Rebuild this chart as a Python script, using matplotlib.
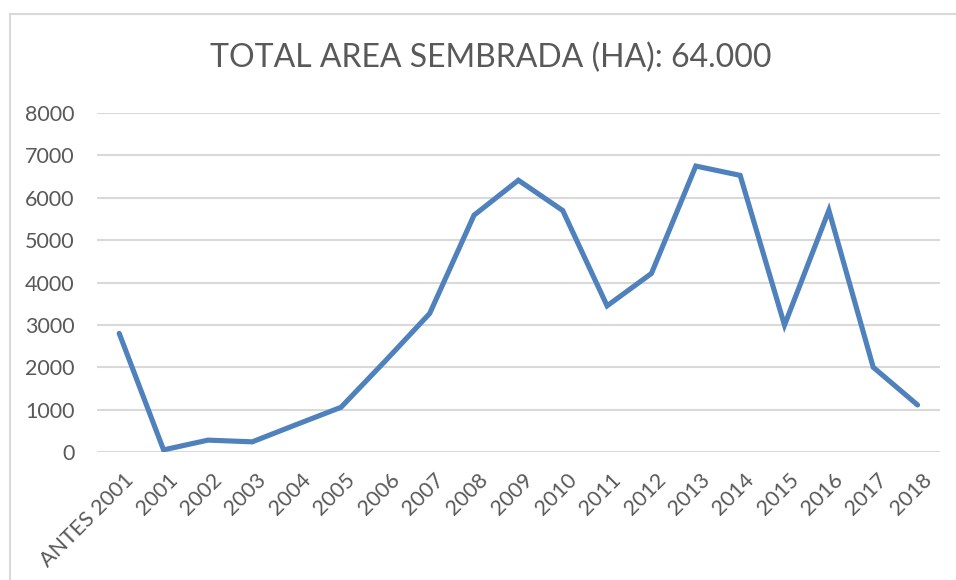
import matplotlib
matplotlib.use("Agg")
import matplotlib.pyplot as plt
from matplotlib.lines import Line2D

plt.rcParams['font.family'] = ['Lato', 'DejaVu Sans']

years = ["ANTES 2001", "2001", "2002", "2003", "2004", "2005", "2006", "2007", "2008",
         "2009", "2010", "2011", "2012", "2013", "2014", "2015", "2016", "2017", "2018"]
area = [2800, 50, 280, 240, 650, 1055, 2150, 3270, 5590,
        6415, 5700, 3450, 4215, 6750, 6530, 2995, 5705, 2000, 1110]

text_color = '#595959'
grid_color = '#d9d9d9'

fig = plt.figure(figsize=(9.56, 5.8), dpi=100)
ax = fig.add_axes([0.1015, 0.2207, 0.8815, 0.5843])

ax.plot(range(len(years)), area, color='#4f81bd', linewidth=3.7,
        solid_joinstyle='miter', solid_capstyle='round', zorder=3)

ax.set_ylim(0, 8000)
ax.set_yticks(range(0, 8001, 1000))
ax.set_xlim(-0.5, len(years) - 0.5)
ax.set_xticks(range(len(years)))
ax.set_xticklabels(years, rotation=45, ha='right', rotation_mode='anchor')
ax.tick_params(axis='both', length=0, labelsize=15.5, colors=text_color)
ax.tick_params(axis='y', pad=21)
ax.tick_params(axis='x', pad=13)
ax.grid(axis='y', color=grid_color, linewidth=1.5)
ax.set_axisbelow(True)
for s in ax.spines.values():
    s.set_visible(False)
for lab in ax.get_xticklabels():
    lab.set_x(lab.get_position()[0])
# nudge rotated labels right a little, like the original
import matplotlib.transforms as mtransforms
offset = mtransforms.ScaledTranslation(4 / 100, 0, fig.dpi_scale_trans)
for lab in ax.get_xticklabels():
    lab.set_transform(lab.get_transform() + offset)
offset_y = mtransforms.ScaledTranslation(7 / 100, 0, fig.dpi_scale_trans)
for lab in ax.get_yticklabels():
    lab.set_transform(lab.get_transform() + offset_y)

fig.text(0.513, 0.9, "TOTAL AREA SEMBRADA (HA): 64.000", ha='center', va='center',
         fontsize=23, color=text_color)

# chart area border (top and left edges visible)
fig.add_artist(Line2D([9.5 / 956, 1], [1 - 13.5 / 580] * 2, color=grid_color, linewidth=1.5))
fig.add_artist(Line2D([9.5 / 956] * 2, [0, 1 - 13.5 / 580], color=grid_color, linewidth=1.5))

fig.savefig("out.png", dpi=100)
